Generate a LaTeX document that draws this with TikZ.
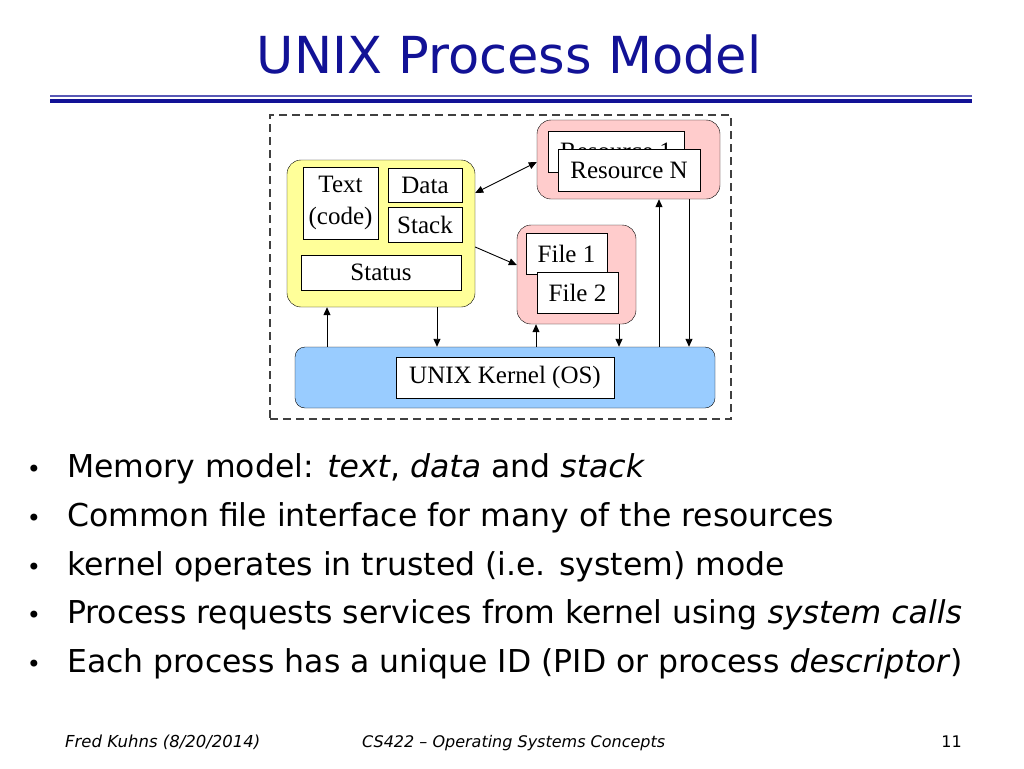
\documentclass[tikz,border=0pt]{standalone}
\usepackage{fontspec}
\setmainfont{DejaVu Sans}
\newfontfamily\boxfont{Liberation Serif}
\usepackage{xcolor}
\definecolor{slideblue}{RGB}{18,18,150}
\definecolor{procyellow}{RGB}{255,255,153}
\definecolor{respink}{RGB}{255,204,204}
\definecolor{kernblue}{RGB}{153,204,255}
\usetikzlibrary{arrows.meta,positioning}

\begin{document}
\begin{tikzpicture}[x=1pt, y=-1pt,
    box/.style={rectangle, draw=black, fill=white, inner sep=0pt, align=center, font=\boxfont\fontsize{25}{32}\selectfont},
    group/.style={rectangle, rounded corners=14pt, draw=black, inner sep=0pt},
    arrow/.style={-{Triangle[length=8pt, width=7pt]}, line width=0.9pt},
    bullet/.style={anchor=base west, inner sep=0pt, font=\fontsize{31.5}{38}\selectfont},
    foot/.style={anchor=base west, inner sep=0pt, font=\itshape\fontsize{16.5}{20}\selectfont},
]
\useasboundingbox (0,0) rectangle (1024,768);

% Title and rule
\node[text=slideblue, inner sep=0pt, font=\fontsize{51}{60}\selectfont] (title) at (509,54) {UNIX Process Model};
\draw[slideblue!70, line width=1.5pt] (50,96) -- (972,96);
\draw[slideblue, line width=4pt] (50,100.5) -- (972,100.5);

% Frame round the model
\node[rectangle, draw=black!75, dash pattern=on 8pt off 5pt, line width=1.8pt, minimum width=461pt, minimum height=304pt] (frame) at (500.5,267) {};

% Process
\node[group, fill=procyellow, minimum width=188pt, minimum height=147pt] (proc) at (381,233.5) {};
\node[box, minimum width=75pt, minimum height=72pt] (txt) at (340.5,203) {Text\\(code)};
\node[box, minimum width=74pt, minimum height=34pt] (dat) at (425,185) {Data};
\node[box, minimum width=74pt, minimum height=35pt] (stk) at (425,224.5) {Stack};
\node[box, minimum width=160pt, minimum height=35pt] (sts) at (381,272.5) {Status};

% Resources
\node[group, fill=respink, minimum width=183pt, minimum height=79pt] (resgrp) at (628.5,159.5) {};
\node[box, minimum width=136pt, minimum height=41pt] (res1) at (616,151.5) {Resource 1};
\node[box, minimum width=142pt, minimum height=42pt] (resN) at (629,170) {Resource N};

% Files
\node[group, fill=respink, minimum width=119pt, minimum height=99pt] (filegrp) at (576.5,274.5) {};
\node[box, minimum width=81pt, minimum height=41pt] (f1) at (566.5,253.5) {File 1};
\node[box, minimum width=81pt, minimum height=41pt] (f2) at (577.5,292.5) {File 2};

% Kernel
\node[group, rounded corners=10pt, fill=kernblue, minimum width=420pt, minimum height=61pt] (kern) at (505,377.5) {};
\node[box, minimum width=218pt, minimum height=41pt] (kl) at (505,377.5) {UNIX Kernel (OS)};

% Connectors
\draw[arrow, {Triangle[length=8pt, width=7pt]}-{Triangle[length=8pt, width=7pt]}] (proc.east |- 0,193) -- (resgrp.west |- 0,162);
\draw[arrow] (proc.east |- 0,247) -- (filegrp.west |- 0,265);
\draw[arrow] (kern.north -| 327,0) -- (proc.south -| 327,0);
\draw[arrow] (proc.south -| 437,0) -- (kern.north -| 437,0);
\draw[arrow] (kern.north -| 536,0) -- (filegrp.south -| 536,0);
\draw[arrow] (filegrp.south -| 619,0) -- (kern.north -| 619,0);
\draw[arrow] (kern.north -| 659,0) -- (resgrp.south -| 659,0);
\draw[arrow] (resgrp.south -| 689,0) -- (kern.north -| 689,0);

% Bullets
\node[bullet] (b1) at (67,477) {Memory model: \textit{text}, \textit{data} and \textit{stack}};
\node[bullet] (b2) at (67,526) {Common file interface for many of the resources};
\node[bullet] (b3) at (67,575) {kernel operates in trusted (i.e. system) mode};
\node[bullet] (b4) at (67,623) {Process requests services from kernel using \textit{system calls}};
\node[bullet] (b5) at (67,672) {Each process has a unique ID (PID or process \textit{descriptor})};
\foreach \y/\n in {477/d1,526/d2,575/d3,623/d4,672/d5}
  \node[bullet, anchor=base, font=\fontsize{24}{30}\selectfont] (\n) at (34,\y) {•};

% Footer
\node[foot] (fname) at (65,747) {Fred Kuhns (8/20/2014)};
\node[foot, font=\itshape\fontsize{16}{20}\selectfont] (fcourse) at (362,747) {CS422 – Operating Systems Concepts};
\node[foot, font=\fontsize{16}{20}\selectfont, anchor=base east] (fpage) at (962,747) {11};
\end{tikzpicture}
\end{document}
